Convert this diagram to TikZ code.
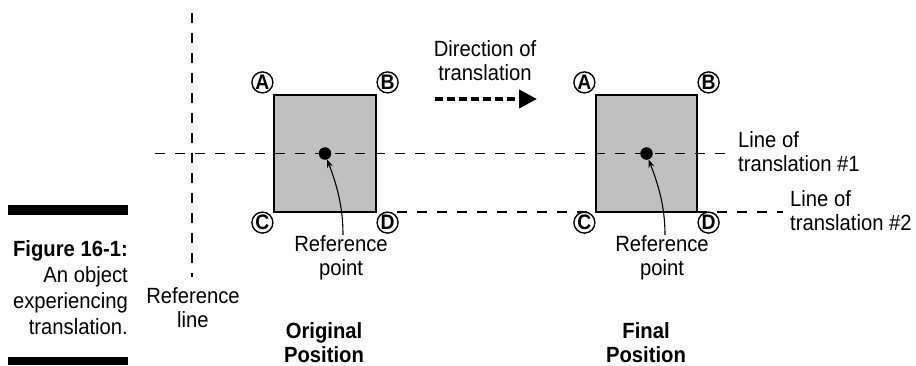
\documentclass[tikz,border=0pt]{standalone}
\usepackage{fontspec}
\setmainfont{Liberation Sans}[FakeStretch=0.92]
\usetikzlibrary{arrows.meta}
\definecolor{boxgray}{RGB}{192,192,192}

\begin{document}
\begin{tikzpicture}[x=1pt,y=-1pt,>=Stealth,
  txt/.style={font=\fontsize{22}{24}\selectfont,inner sep=0pt,align=center},
  posbox/.style={draw,fill=boxgray,line width=1.2pt,minimum width=102pt,minimum height=117pt,inner sep=0pt},
  corner/.style={circle,draw,fill=white,line width=1.4pt,minimum size=21pt,inner sep=0pt,font=\fontsize{21}{21}\selectfont\bfseries},
  refdot/.style={circle,fill=black,minimum size=12.5pt,inner sep=0pt},
  transline/.style={dash pattern=on 10pt off 10pt,line width=1.3pt}]
  \useasboundingbox (0,0) rectangle (916,365);
  % caption at the left
  \fill (8,205) rectangle (128,215);
  \fill (8,357) rectangle (128,365);
  \node[txt,font=\fontsize{22}{26}\selectfont,align=right,anchor=north east] (caption) at (128,240)
    {\textbf{Figure 16-1:}\\An object\\experiencing\\translation.};
  % the two positions
  \node[posbox] (orig) at (325,153.5) {};
  \node[posbox,minimum width=101pt] (fin) at (646.5,153.5) {};
  \node[refdot] (origdot) at (orig.center) {};
  \node[refdot] (findot) at (fin.center) {};
  % reference line and lines of translation
  \coordinate (reftop) at (192,13);
  \node[txt,anchor=north] (reflbl) at (193,287) {Reference\\line};
  \draw[transline] (reftop) -- (192,277);
  \coordinate (lineoneS) at (155,153.5);
  \coordinate (lineoneE) at (735,153.5);
  \draw[transline] (lineoneS) -- (lineoneE);
  \coordinate (linetwoS) at (397,212);
  \coordinate (linetwoE) at (783,212);
  \draw[transline] (linetwoS) -- (linetwoE);
  \node[txt,align=left,anchor=north west] (lotone) at (738,131) {Line of\\translation \#1};
  \node[txt,align=left,anchor=north west] (lottwo) at (790,190) {Line of\\translation \#2};
  % corner letters
  \foreach \b in {orig,fin}{
    \node[corner,xshift=-11pt,yshift=12pt] (\b A) at (\b.north west) {A};
    \node[corner,xshift=11pt,yshift=12pt] (\b B) at (\b.north east) {B};
    \node[corner,xshift=-11pt,yshift=-10pt] (\b C) at (\b.south west) {C};
    \node[corner,xshift=11pt,yshift=-10pt] (\b D) at (\b.south east) {D};
  }
  % reference points
  \node[txt,anchor=north] (origref) at (341,235) {Reference\\point};
  \node[txt,anchor=north] (finref) at (662,235) {Reference\\point};
  \draw[->,line width=1.1pt] ([xshift=2pt]origref.north) .. controls +(0,-30) and +(9,24) .. (origdot.-70);
  \draw[->,line width=1.1pt] ([xshift=3pt]finref.north) .. controls +(0,-30) and +(9,24) .. (findot.-70);
  % direction of translation
  \node[txt,anchor=north] (dirlbl) at (485,40) {Direction of\\translation};
  \coordinate (dirS) at (435,99);
  \coordinate (dirE) at (537,99);
  \draw[line width=4pt,dash pattern=on 8pt off 4pt,-{Triangle[length=18pt,width=18pt]}] (dirS) -- (dirE);
  % position titles
  \node[txt,font=\fontsize{22}{24}\selectfont\bfseries,anchor=north] (origlbl) at (324,322) {Original\\Position};
  \node[txt,font=\fontsize{22}{24}\selectfont\bfseries,anchor=north] (finlbl) at (646,322) {Final\\Position};
\end{tikzpicture}
\end{document}
